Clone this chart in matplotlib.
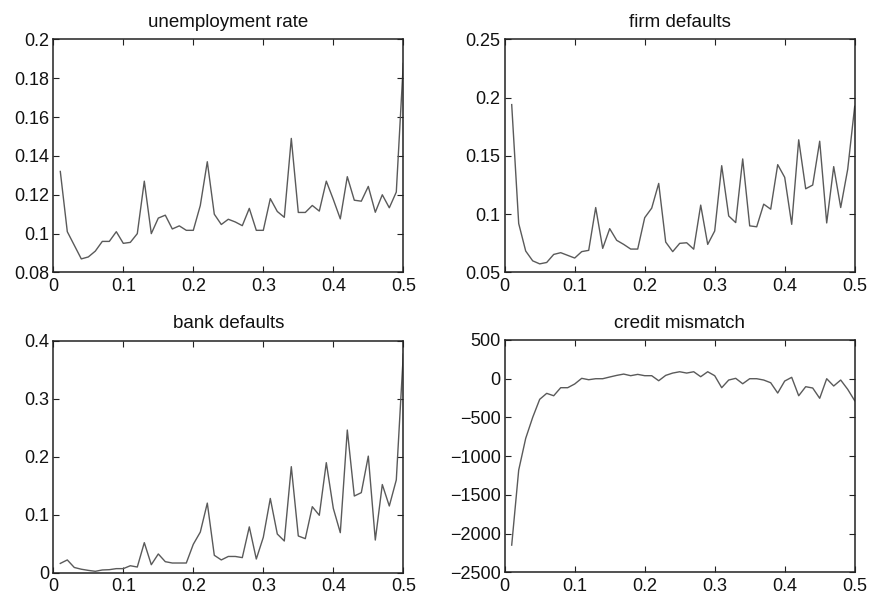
"""Four-panel MATLAB-style summary: unemployment, firm/bank defaults, credit mismatch."""

import matplotlib
matplotlib.use("Agg")
import matplotlib.pyplot as plt
import numpy as np

plt.rcParams["font.family"] = ["Liberation Sans", "DejaVu Sans"]

# x grid: 0.01 .. 0.50
x = np.arange(1, 51) / 100.0

unemployment = [
    0.132, 0.101, 0.094, 0.087, 0.088, 0.091, 0.096, 0.096, 0.101, 0.095,
    0.0955, 0.100, 0.127, 0.100, 0.108, 0.1095, 0.1024, 0.104, 0.1017, 0.1017,
    0.1145, 0.137, 0.110, 0.1047, 0.1074, 0.106, 0.1041, 0.113, 0.1017, 0.1017,
    0.118, 0.1114, 0.1084, 0.149, 0.1109, 0.1109, 0.1145, 0.1116, 0.127, 0.1176,
    0.1076, 0.1293, 0.1172, 0.1167, 0.1243, 0.111, 0.120, 0.1133, 0.1214, 0.1876,
]

firm_defaults = [
    0.194, 0.092, 0.0684, 0.060, 0.0574, 0.0586, 0.0655, 0.067, 0.0647, 0.0624,
    0.0679, 0.069, 0.1057, 0.0707, 0.0876, 0.0776, 0.0741, 0.0701, 0.0701, 0.097,
    0.1052, 0.1264, 0.0761, 0.0679, 0.075, 0.0755, 0.070, 0.1078, 0.0741, 0.0856,
    0.1416, 0.0985, 0.0928, 0.1474, 0.090, 0.0892, 0.1086, 0.1043, 0.1425, 0.1316,
    0.0913, 0.1638, 0.1218, 0.125, 0.1626, 0.0925, 0.1408, 0.1057, 0.1385, 0.1925,
]

bank_defaults = [
    0.016, 0.022, 0.009, 0.006, 0.004, 0.0024, 0.0047, 0.0052, 0.007, 0.007,
    0.012, 0.0098, 0.0518, 0.0138, 0.0323, 0.019, 0.0167, 0.0167, 0.0167, 0.049,
    0.070, 0.120, 0.030, 0.022, 0.028, 0.028, 0.026, 0.079, 0.0236, 0.061,
    0.128, 0.0667, 0.0547, 0.1828, 0.0633, 0.0587, 0.1138, 0.099, 0.1897, 0.111,
    0.069, 0.246, 0.1322, 0.138, 0.201, 0.0563, 0.152, 0.115, 0.160, 0.377,
]

credit_mismatch = [
    -2149, -1180, -770, -499, -266, -189, -220, -116, -116, -68,
    5, -13, 0, 0, 22, 43, 60, 39, 56, 39,
    39, -26, 43, 73, 90, 73, 90, 26, 90, 39,
    -116, -17, 5, -65, 0, 0, -17, -52, -185, -30,
    18, -220, -103, -120, -253, 0, -94, -17, -137, -284,
]

titles = ["unemployment rate", "firm defaults", "bank defaults", "credit mismatch"]
series = [unemployment, firm_defaults, bank_defaults, credit_mismatch]
ylims = [(0.08, 0.2), (0.05, 0.25), (0.0, 0.4), (-2500, 500)]
yticks = [
    [0.08, 0.1, 0.12, 0.14, 0.16, 0.18, 0.2],
    [0.05, 0.1, 0.15, 0.2, 0.25],
    [0, 0.1, 0.2, 0.3, 0.4],
    [-2500, -2000, -1500, -1000, -500, 0, 500],
]
yticklabels = [
    ["0.08", "0.1", "0.12", "0.14", "0.16", "0.18", "0.2"],
    ["0.05", "0.1", "0.15", "0.2", "0.25"],
    ["0", "0.1", "0.2", "0.3", "0.4"],
    ["\u22122500", "\u22122000", "\u22121500", "\u22121000", "\u2212500", "0", "500"],
]
xticks = [0, 0.1, 0.2, 0.3, 0.4, 0.5]
xticklabels = ["0", "0.1", "0.2", "0.3", "0.4", "0.5"]

W, H = 870, 595
rects = [
    (53.3, 39.3, 350, 233.2),
    (504.7, 39.3, 350, 233.2),
    (53.3, 340.7, 350, 232),
    (504.7, 340.0, 350, 232.3),
]


def main():
    fig = plt.figure(figsize=(W / 100, H / 100), dpi=100)
    for (l, t, w, h), ttl, y, yl, yt, ytl in zip(rects, titles, series, ylims,
                                                  yticks, yticklabels):
        ax = fig.add_axes([l / W, (H - t - h) / H, w / W, h / H])
        ax.plot(x, y, color="#5a5a5a", lw=1.0)
        ax.set_xlim(0, 0.5)
        ax.set_ylim(*yl)
        ax.set_xticks(xticks)
        ax.set_xticklabels(xticklabels)
        ax.set_yticks(yt)
        ax.set_yticklabels(ytl)
        ax.tick_params(direction="in", top=True, right=True, length=4,
                       width=0.8, labelsize=13, colors="#222222",
                       labelcolor="#111111")
        ax.tick_params(axis="x", pad=4)
        ax.tick_params(axis="y", pad=3)
        for sp in ax.spines.values():
            sp.set_linewidth(1.1)
            sp.set_color("#222222")
        ax.set_title(ttl, fontsize=13.5, pad=9, color="#111111")

    fig.savefig("out.png", dpi=100)


if __name__ == "__main__":
    main()
